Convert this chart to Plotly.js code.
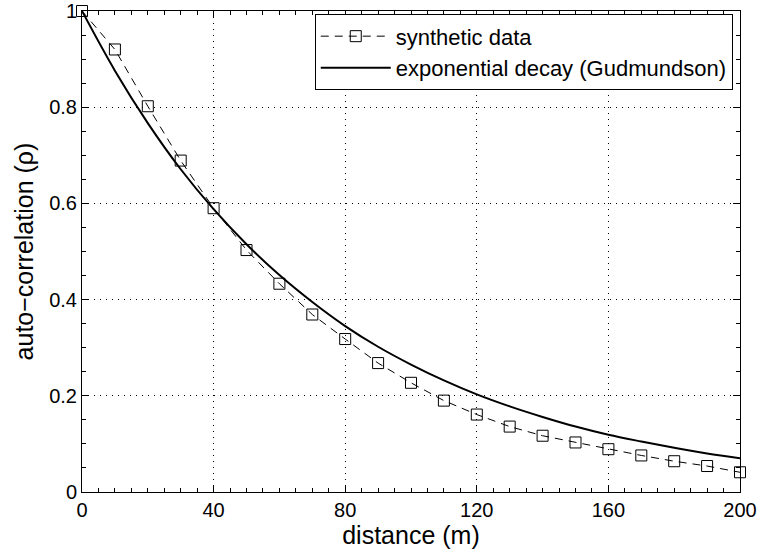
<!DOCTYPE html>
<html>
<head>
<meta charset="utf-8">
<script src="https://cdn.plot.ly/plotly-3.0.1.min.js"></script>
<style>html,body{margin:0;padding:0;background:#fff;}#chart{width:760px;height:556px;}</style>
</head>
<body>
<div id="chart"></div>
<script>
// distance (m)
const distance = [0, 10, 20, 30, 40, 50, 60, 70, 80, 90, 100, 110, 120, 130, 140, 150, 160, 170, 180, 190, 200];
// synthetic data auto-correlation
const synthetic = [1.0, 0.92, 0.802, 0.689, 0.59, 0.503, 0.433, 0.369, 0.318, 0.268, 0.227, 0.19, 0.161, 0.136, 0.117, 0.103, 0.089, 0.076, 0.064, 0.054, 0.041];
// exponential decay (Gudmundson)
const expDecay = [1.0, 0.876, 0.767, 0.671, 0.588, 0.515, 0.451, 0.395, 0.345, 0.302, 0.265, 0.232, 0.203, 0.178, 0.156, 0.136, 0.119, 0.105, 0.092, 0.080, 0.070];
const xTicks = [0, 40, 80, 120, 160, 200];
const yTicks = [0, 0.2, 0.4, 0.6, 0.8, 1];

const font = "Liberation Sans, Arial, Helvetica, sans-serif";

const traces = [
  {
    x: distance, y: synthetic, name: 'synthetic data', type: 'scatter', mode: 'lines+markers',
    cliponaxis: false,
    line: {color: '#000', width: 1, dash: '8px,6px'},
    marker: {symbol: 'square-open', size: 11, color: '#000', line: {width: 1, color: '#000'}}
  },
  {
    x: distance, y: expDecay, name: 'exponential decay (Gudmundson)', type: 'scatter', mode: 'lines',
    cliponaxis: false,
    line: {color: '#000', width: 2, shape: 'spline'}
  }
];

const axisCommon = {
  showline: true, linecolor: '#000', linewidth: 1, mirror: 'allticks',
  ticks: 'inside', ticklen: 7, tickcolor: '#000', tickwidth: 1,
  showgrid: true, gridcolor: '#000', griddash: '1px,5px', gridwidth: 1,
  zeroline: false, ticklabeloverflow: 'allow',
  tickfont: {family: font, size: 20, color: '#000'}
};

const layout = {
  width: 760, height: 556,
  margin: {l: 82, r: 20, t: 11, b: 64},
  paper_bgcolor: '#fff', plot_bgcolor: '#fff',
  font: {family: font, color: '#000'},
  showlegend: true,
  legend: {
    x: 0.989, xanchor: 'right', y: 0.993, yanchor: 'top',
    bgcolor: '#fff', bordercolor: '#000', borderwidth: 1,
    font: {family: font, size: 22, color: '#000'},
    itemwidth: 70, tracegroupgap: 0
  },
  xaxis: Object.assign({}, axisCommon, {
    range: [0, 200], tickmode: 'array', tickvals: xTicks, ticktext: xTicks.map(String),
    minor: {dtick: 5, ticks: 'inside', ticklen: 4, tickcolor: '#000', showgrid: false},
    title: {text: 'distance (m)', font: {family: font, size: 25, color: '#000'}, standoff: 4}
  }),
  yaxis: Object.assign({}, axisCommon, {
    range: [0, 1], tickmode: 'array', tickvals: yTicks, ticktext: yTicks.map(String),
    minor: {dtick: 0.05, ticks: 'inside', ticklen: 4, tickcolor: '#000', showgrid: false},
    title: {text: 'auto−correlation (ρ)', font: {family: font, size: 25, color: '#000'}, standoff: 8}
  })
};

Plotly.newPlot('chart', traces, layout, {displayModeBar: false, staticPlot: true});
</script>
</body>
</html>
